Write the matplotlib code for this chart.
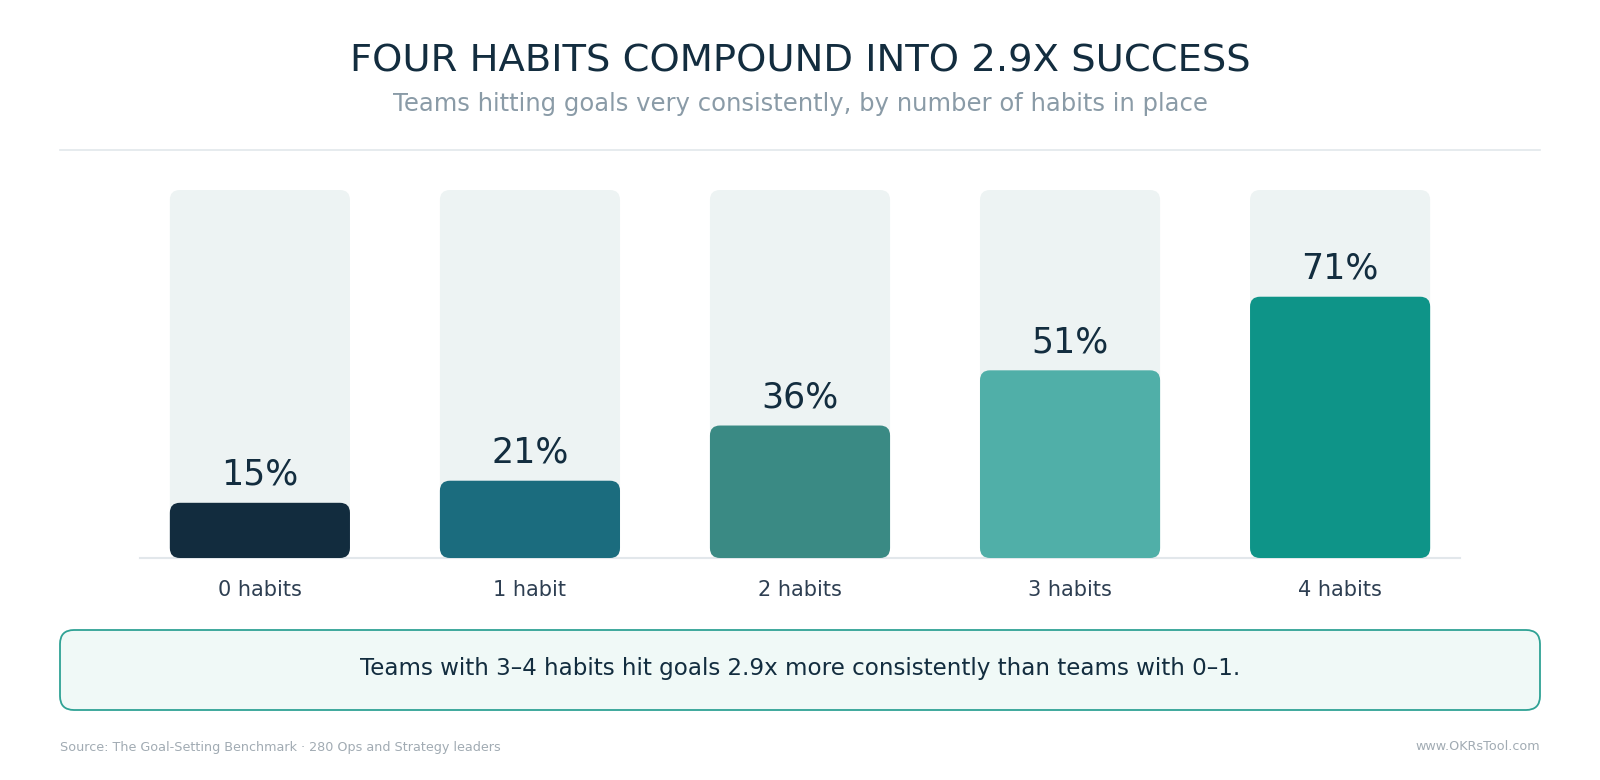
import matplotlib
matplotlib.use("Agg")
import matplotlib.pyplot as plt
from matplotlib.patches import FancyBboxPatch
from matplotlib.lines import Line2D

# Data
categories = ["0 habits", "1 habit", "2 habits", "3 habits", "4 habits"]
values = [15, 21, 36, 51, 71]
bar_colors = ["#122c3e", "#1b6c7e", "#3a8a84", "#50afa8", "#0e9488"]

title = "FOUR HABITS COMPOUND INTO 2.9X SUCCESS"
subtitle = "Teams hitting goals very consistently, by number of habits in place"
callout = "Teams with 3\u20134 habits hit goals 2.9x more consistently than teams with 0\u20131."
source = "Source: The Goal-Setting Benchmark \u00b7 280 Ops and Strategy leaders"
site = "www.OKRsTool.com"

W, H = 1600, 780
fig = plt.figure(figsize=(W / 100, H / 100), dpi=100)
fig.patch.set_facecolor("white")

# axes placed in pixel terms: x 140..1460, y baseline 558, 100% at 190
ax = fig.add_axes([140 / W, (H - 558) / H, 1320 / W, 368 / H])
ax.set_xlim(-0.444, 4.444)
ax.set_ylim(0, 100)
ax.axis("off")

bar_w = 0.667
# aspect correction so rounded corners look round
px_per_x = 1320 / (4.444 + 0.444)
px_per_y = 368 / 100
aspect = px_per_x / px_per_y
r = 10 / px_per_x

for i, (cat, v, c) in enumerate(zip(categories, values, bar_colors)):
    bg = FancyBboxPatch((i - bar_w / 2, 0), bar_w, 100,
                        boxstyle=f"round,pad=0,rounding_size={r}",
                        mutation_aspect=aspect, fc="#edf3f3", ec="none", zorder=1)
    ax.add_patch(bg)
    fg = FancyBboxPatch((i - bar_w / 2, 0), bar_w, v,
                        boxstyle=f"round,pad=0,rounding_size={r}",
                        mutation_aspect=aspect, fc=c, ec="none", zorder=2)
    ax.add_patch(fg)
    ax.annotate(f"{v}%", (i, v), xytext=(0, 13), textcoords="offset points",
                ha="center", va="baseline", fontsize=25, color="#132d3f")
    ax.annotate(cat, (i, 0), xytext=(0, -23), textcoords="offset points",
                ha="center", va="center", fontsize=15, color="#2e3f52",
                annotation_clip=False)

ax.plot([-0.444, 4.444], [0, 0], color="#e2e7eb", lw=1.5, zorder=0, clip_on=False)

# header
fig.text(0.5, 1 - 61 / H, title, ha="center", va="center", fontsize=27.7, color="#132d3f")
fig.text(0.5, 1 - 104 / H, subtitle, ha="center", va="center", fontsize=17.5, color="#8a9ba7")
fig.add_artist(Line2D([60 / W, 1540 / W], [1 - 150 / H, 1 - 150 / H],
                      color="#e2e7eb", lw=1.2))

# callout box
box = FancyBboxPatch((60 / W, (H - 710) / H), 1480 / W, 80 / H,
                     boxstyle=f"round,pad=0,rounding_size={14 / W}",
                     mutation_aspect=W / H, fc="#f0f9f7", ec="#2fa295", lw=1.3,
                     transform=fig.transFigure)
fig.add_artist(box)
fig.text(0.5, 1 - 669 / H, callout, ha="center", va="center", fontsize=16.6, color="#132d3f")

# footer
fig.text(60 / W, 1 - 747 / H, source, ha="left", va="center", fontsize=9.2, color="#a1abb3")
fig.text(1540 / W, 1 - 747 / H, site, ha="right", va="center", fontsize=9.2, color="#a1abb3")

fig.savefig("out.png", dpi=100, facecolor="white")
